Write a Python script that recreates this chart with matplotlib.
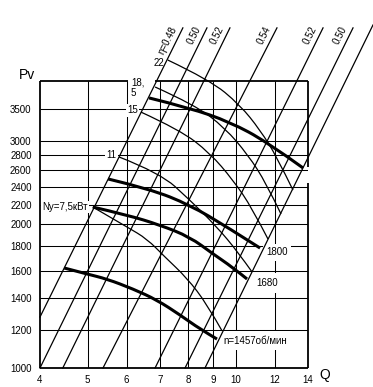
import numpy as np
import matplotlib
matplotlib.use('Agg')
import matplotlib.pyplot as plt
from matplotlib.path import Path
from matplotlib.patches import PathPatch

plt.rcParams['font.family'] = ['Liberation Sans', 'DejaVu Sans']

# grid / ticks
q_grid = [4, 5, 6, 7, 8, 9, 10, 12, 14]
q_labels = ['4', '5', '6', '7', '8', '9', '10', '12', '14']
p_grid = [1000, 1200, 1400, 1600, 1800, 2000, 2200, 2400, 2600, 2800, 3000, 3500, 4000]
p_labels = ['1000', '1200', '1400', '1600', '1800', '2000', '2200', '2400',
            '2600', '2800', '3000', '3500', '']

# efficiency lines: (Q, P) at lower and upper end
eta_labels = ['η=0.48', '0.50', '0.52', '0.54', '0.52', '0.50', '']
eta_q_lo = [4.0, 4.0, 4.45, 5.37, 6.85, 7.88, 8.65]
eta_p_lo = [1279, 1000, 1000, 1000, 1000, 1000, 1000]
eta_q_hi = [7.80, 8.73, 9.72, 12.11, 15.02, 17.28, 18.97]
eta_p_hi = [5170, 5170, 5170, 5170, 5170, 5170, 5243]

# pressure curves (thick), by rotation speed
q_1457 = [4.48, 4.98, 5.47, 6.18, 6.91, 7.70, 8.45, 9.15]
p_1457 = [1621, 1575, 1537, 1465, 1389, 1292, 1207, 1150]
q_1680 = [5.12, 6.01, 7.01, 8.06, 8.98, 9.82, 10.53]
p_1680 = [2176, 2094, 1995, 1883, 1735, 1629, 1537]
q_1800 = [5.50, 6.69, 8.06, 9.59, 11.19]
p_1800 = [2492, 2374, 2198, 1976, 1785]
q_top = [6.66, 8.06, 9.72, 11.56, 13.68]
p_top = [3686, 3511, 3281, 2980, 2628]

# power curves (thin), kW
q_n22 = [7.27, 8.85, 10.19, 11.19, 12.11, 13.05]
p_n22 = [4426, 4020, 3562, 3157, 2771, 2362]
q_n185 = [6.85, 8.26, 9.50, 10.58, 11.51, 12.34]
p_n185 = [3886, 3562, 3188, 2798, 2444, 2104]
q_n15 = [6.41, 7.70, 8.85, 9.86, 10.78, 11.61]
p_n15 = [3443, 3157, 2825, 2480, 2166, 1865]
q_n11 = [5.79, 7.01, 8.06, 9.15, 10.09, 10.78]
p_n11 = [2771, 2566, 2251, 1976, 1751, 1590]
q_n75 = [5.12, 6.01, 6.60, 7.17, 7.95, 8.73, 9.37]
p_n75 = [2176, 1976, 1865, 1710, 1545, 1362, 1196]


def smooth_curve(ax, q, p, lw, z):
    # quadratic bezier through the read points (midpoints taken in log space)
    verts = [(q[0], p[0])]
    codes = [Path.MOVETO]
    n = len(q)
    for i in range(1, n - 1):
        if i < n - 2:
            end = (np.sqrt(q[i] * q[i + 1]), np.sqrt(p[i] * p[i + 1]))
        else:
            end = (q[n - 1], p[n - 1])
        verts += [(q[i], p[i]), end]
        codes += [Path.CURVE3, Path.CURVE3]
    patch = PathPatch(Path(verts, codes), fill=False, edgecolor='black', lw=lw,
                      zorder=z, clip_on=False, capstyle='butt')
    ax.add_patch(patch)


fig = plt.figure(figsize=(3.73, 3.87), dpi=100)
ax = fig.add_axes([0.1072, 0.0491, 0.7185, 0.7416])
ax.set_xscale('log')
ax.set_yscale('log')
ax.set_xlim(4, 14)
ax.set_ylim(1000, 4000)
for s in ax.spines.values():
    s.set_visible(False)
ax.set_xticks(q_grid)
ax.set_xticklabels(q_labels)
ax.set_yticks(p_grid)
ax.set_yticklabels(p_labels)
ax.minorticks_off()
ax.tick_params(length=0, labelsize=7)
ax.tick_params(axis='x', pad=5)
ax.tick_params(axis='y', pad=6)

# grid
ax.vlines(q_grid[1:-1], 1000, 4000, color='black', lw=0.75, zorder=1)
ax.hlines(p_grid[1:-1], 4, 14, color='black', lw=0.75, zorder=1)

# frame, with gaps like the original
fr = dict(color='black', lw=1.3, zorder=2, clip_on=False, solid_capstyle='butt')
ax.plot([4, 4], [1000, 4000], **fr)
ax.plot([4, 14], [1000, 1000], **fr)
ax.plot([4, 6.04], [4000, 4000], **fr)
ax.plot([6.85, 14], [4000, 4000], **fr)
ax.plot([14, 14], [4000, 2641], **fr)
ax.plot([14, 14], [2440, 1000], **fr)

# efficiency lines
for lab, q0, p0, q1, p1 in zip(eta_labels, eta_q_lo, eta_p_lo, eta_q_hi, eta_p_hi):
    ax.plot([q0, q1], [p0, p1], color='black', lw=0.9, zorder=4, clip_on=False)
    if lab:
        ax.annotate(lab, xy=(q1, p1), xytext=(-3, -1), textcoords='offset points',
                    rotation=63.5, rotation_mode='anchor', ha='right', va='bottom',
                    fontsize=7, annotation_clip=False)

# thin power curves
for q, p in [(q_n22, p_n22), (q_n185, p_n185), (q_n15, p_n15), (q_n11, p_n11), (q_n75, p_n75)]:
    smooth_curve(ax, q, p, 0.9, 4)

# thick pressure curves
for q, p in [(q_1457, p_1457), (q_1680, p_1680), (q_1800, p_1800), (q_top, p_top)]:
    smooth_curve(ax, q, p, 2.2, 5)

wb = dict(facecolor='white', edgecolor='none', pad=1.0)
ax.text(7.15, 4365, '22', fontsize=7, ha='right', va='center')
ax.text(6.12, 3868, '18,\n5', fontsize=7, ha='left', va='center', linespacing=1.0)
ax.text(6.16, 3469, '15', fontsize=7, ha='center', va='center', bbox=wb, zorder=3)
ax.text(5.58, 2798, '11', fontsize=7, ha='center', va='center', bbox=wb, zorder=3)
ax.text(4.04, 2176, 'Ny=7,5кВт', fontsize=7, ha='left', va='center', bbox=wb, zorder=3)
ax.text(12.11, 1747, '1800', fontsize=7, ha='center', va='center',
        bbox=dict(facecolor='white', edgecolor='none', pad=2.5), zorder=3)
ax.text(11.56, 1508, '1680', fontsize=7, ha='center', va='center',
        bbox=dict(facecolor='white', edgecolor='none', pad=3.5), zorder=3)
ax.text(9.41, 1142, 'n=1457об/мин', fontsize=7, ha='left', va='center',
        bbox=dict(facecolor='white', edgecolor='none', pad=3.5), zorder=3)

fig.text(325 / 373, 1 - 375 / 387, 'Q', fontsize=10, ha='center', va='center')
fig.text(27 / 373, 1 - 75 / 387, 'Pv', fontsize=10, ha='center', va='center')

fig.savefig('out.png', dpi=100)
